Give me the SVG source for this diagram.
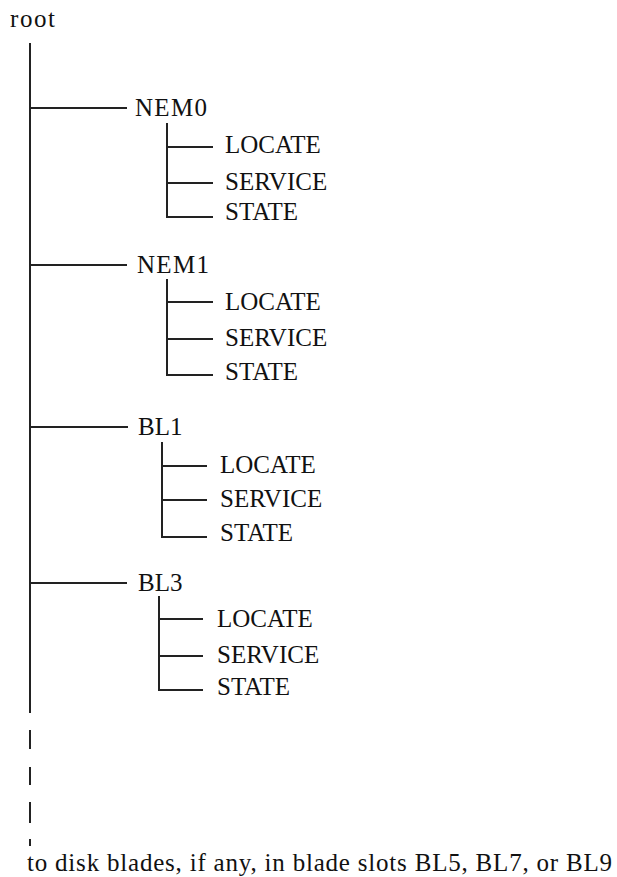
<svg xmlns="http://www.w3.org/2000/svg" width="617" height="877" viewBox="0 0 617 877">
<style>
text{font-family:"Liberation Serif","DejaVu Serif",serif;font-size:25px;fill:#111}
.ln{stroke:#222;stroke-width:2;fill:none}
</style>
<rect width="617" height="877" fill="#fff"/>
<g id="connectors" class="ln">
<path d="M30 43V713M30 730V749M30 767V785M30 802V823M30 839V846"/>
<path d="M30 108H127M30 265H127M30 427H128M30 583H127"/>
<path d="M167 123V217H213M167 147H213M167 183H213"/>
<path d="M167 279V375H213M167 302H213M167 339H213"/>
<path d="M162 442V537H207M162 466H207M162 500H207"/>
<path d="M159 596V690H203M159 619H203M159 656H203"/>
</g>
<g id="root"><text x="10" y="27" textLength="45">root</text></g>
<g id="NEM0">
<text x="135" y="116" textLength="72">NEM0</text>
<text x="225" y="153">LOCATE</text>
<text x="225" y="190">SERVICE</text>
<text x="225" y="220">STATE</text>
</g>
<g id="NEM1">
<text x="137" y="273" textLength="72">NEM1</text>
<text x="225" y="310">LOCATE</text>
<text x="225" y="346">SERVICE</text>
<text x="225" y="380">STATE</text>
</g>
<g id="BL1">
<text x="138" y="435">BL1</text>
<text x="220" y="473">LOCATE</text>
<text x="220" y="507">SERVICE</text>
<text x="220" y="541">STATE</text>
</g>
<g id="BL3">
<text x="138" y="591">BL3</text>
<text x="217" y="627">LOCATE</text>
<text x="217" y="663">SERVICE</text>
<text x="217" y="695">STATE</text>
</g>
<g id="note"><text x="27" y="871" textLength="585">to disk blades, if any, in blade slots BL5, BL7, or BL9</text></g>
</svg>
